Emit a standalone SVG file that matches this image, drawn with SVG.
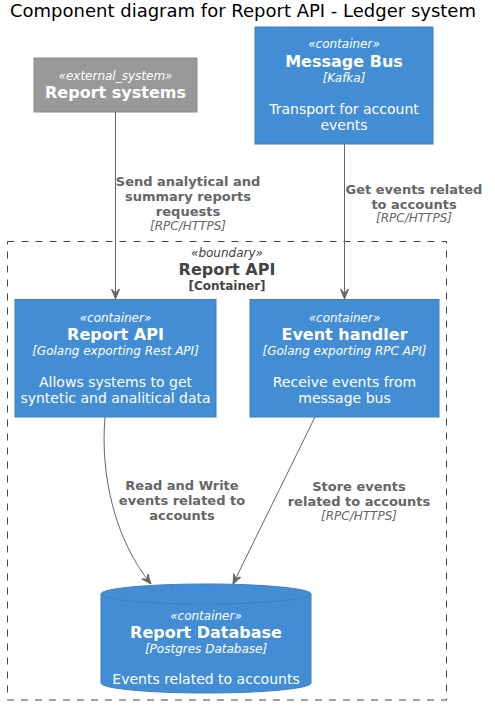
<svg xmlns="http://www.w3.org/2000/svg" width="495" height="705" viewBox="0 0 495 705">
<defs>
<style>
text{font-family:"DejaVu Sans","Liberation Sans",sans-serif;text-anchor:middle}
.title{font-size:18px;fill:#000;text-anchor:start}
.st{font-size:12px;font-style:italic;fill:#fff}
.nm{font-size:16px;font-weight:bold;fill:#fff}
.tech{font-size:12px;font-style:italic;fill:#fff}
.desc{font-size:14px;fill:#fff}
.box{fill:#438DD5;stroke:#3C7FC0;stroke-width:1}
.ext{fill:#999999;stroke:#8A8A8A;stroke-width:1}
.lbl{font-size:13px;font-weight:bold;fill:#666}
.lblt{font-size:12px;font-style:italic;fill:#666}
.edge{fill:none;stroke:#666;stroke-width:1}
.bnd{fill:none;stroke:#444;stroke-width:1;stroke-dasharray:7,7}
</style>
<marker id="ah" viewBox="0 0 10 10" refX="10" refY="5" markerWidth="10" markerHeight="10" markerUnits="userSpaceOnUse" orient="auto">
<path d="M0,1 L10,5 L0,9 L4,5 Z" fill="#666" stroke="#666" stroke-width="1"/>
</marker>
</defs>
<rect width="495" height="705" fill="#fff"/>
<text class="title" x="10" y="17">Component diagram for Report API - Ledger system</text>

<g id="boundary">
<rect class="bnd" x="7.5" y="241.5" width="439" height="458.5"/>
<text x="227" y="257" style="font-size:12px;font-style:italic;fill:#444">«boundary»</text>
<text x="227" y="275" style="font-size:16px;font-weight:bold;fill:#444">Report API</text>
<text x="227" y="290" style="font-size:12px;font-weight:bold;fill:#444">[Container]</text>
</g>

<g id="report_systems">
<rect class="ext" x="34" y="58" width="163" height="54"/>
<text class="st" x="115.5" y="80">«external_system»</text>
<text class="nm" x="115.5" y="98">Report systems</text>
</g>

<g id="message_bus">
<rect class="box" x="255" y="27" width="178" height="117"/>
<text class="st" x="344" y="48">«container»</text>
<text class="nm" x="344" y="67">Message Bus</text>
<text class="tech" x="344" y="82">[Kafka]</text>
<text class="desc" x="344" y="114">Transport for account</text>
<text class="desc" x="344" y="130">events</text>
</g>

<g id="report_api">
<rect class="box" x="15" y="299.5" width="201" height="117.5"/>
<text class="st" x="115.5" y="322">«container»</text>
<text class="nm" x="115.5" y="340">Report API</text>
<text class="tech" x="115.5" y="355">[Golang exporting Rest API]</text>
<text class="desc" x="115.5" y="387">Allows systems to get</text>
<text class="desc" x="115.5" y="403">syntetic and analitical data</text>
</g>

<g id="event_handler">
<rect class="box" x="250" y="299.5" width="189" height="117.5"/>
<text class="st" x="344.5" y="322">«container»</text>
<text class="nm" x="344.5" y="340">Event handler</text>
<text class="tech" x="344.5" y="355">[Golang exporting RPC API]</text>
<text class="desc" x="344.5" y="387">Receive events from</text>
<text class="desc" x="344.5" y="403">message bus</text>
</g>

<g id="report_database">
<path class="box" d="M101,594 A105,10 0 0 1 311,594 L311,683 A105,10 0 0 1 101,683 Z"/>
<path d="M101,594 A105,10 0 0 0 311,594" fill="none" stroke="#3C7FC0"/>
<text class="st" x="206" y="620">«container»</text>
<text class="nm" x="206" y="638">Report Database</text>
<text class="tech" x="206" y="653">[Postgres Database]</text>
<text class="desc" x="206" y="684">Events related to accounts</text>
</g>

<g id="connectors">
<path class="edge" d="M115.5,112 L115.5,299" marker-end="url(#ah)"/>
<text class="lbl" x="188" y="186">Send analytical and</text>
<text class="lbl" x="188" y="201">summary reports</text>
<text class="lbl" x="188" y="216">requests</text>
<text class="lblt" x="188" y="230">[RPC/HTTPS]</text>

<path class="edge" d="M344.5,144 L344.5,299" marker-end="url(#ah)"/>
<text class="lbl" x="414" y="194">Get events related</text>
<text class="lbl" x="414" y="209">to accounts</text>
<text class="lblt" x="414" y="222">[RPC/HTTPS]</text>

<path class="edge" d="M105,417 C100,475 115,540 151,584" marker-end="url(#ah)"/>
<text class="lbl" x="182" y="490">Read and Write</text>
<text class="lbl" x="182" y="505">events related to</text>
<text class="lbl" x="182" y="520">accounts</text>

<path class="edge" d="M315,417 L233,584" marker-end="url(#ah)"/>
<text class="lbl" x="359" y="491">Store events</text>
<text class="lbl" x="359" y="506">related to accounts</text>
<text class="lblt" x="359" y="520">[RPC/HTTPS]</text>
</g>
</svg>
